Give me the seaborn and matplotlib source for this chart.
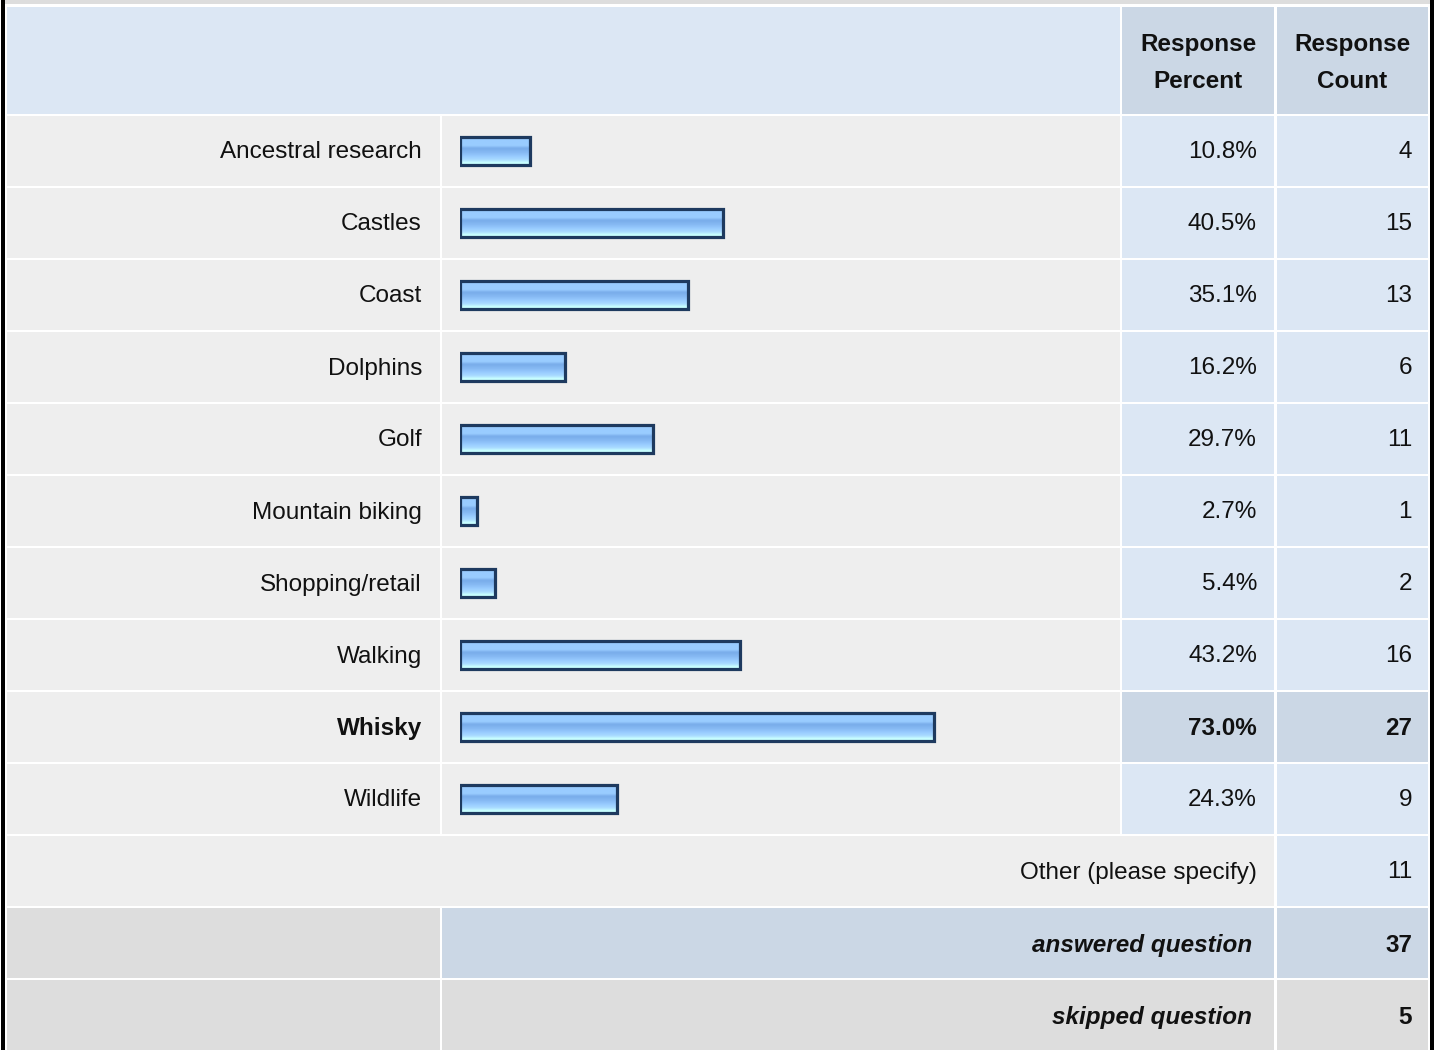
import numpy as np
import pandas as pd
import matplotlib
matplotlib.use("Agg")
import matplotlib.pyplot as plt
from matplotlib.patches import Rectangle
from matplotlib.colors import to_rgb
import seaborn as sns

# ---------------- data ----------------
categories = ["Ancestral research", "Castles", "Coast", "Dolphins", "Golf",
              "Mountain biking", "Shopping/retail", "Walking", "Whisky", "Wildlife"]
percents = [10.8, 40.5, 35.1, 16.2, 29.7, 2.7, 5.4, 43.2, 73.0, 24.3]
counts = [4, 15, 13, 6, 11, 1, 2, 16, 27, 9]
header_labels = ["Response\nPercent", "Response\nCount"]
other_label = "Other (please specify)"
other_count = 11
answered_label = "answered question"
answered_count = 37
skipped_label = "skipped question"
skipped_count = 5
highlight = "Whisky"

# ---------------- style ----------------
sns.set_style("white")
plt.rcParams["font.family"] = ["Liberation Sans", "DejaVu Sans"]
plt.rcParams["text.color"] = "#111111"

W, H = 1438, 1050
LB = "#dce7f4"
DB = "#cbd7e5"
G1 = "#eeeeee"
G2 = "#dddddd"
FS = 17.5

fig = plt.figure(figsize=(W / 100, H / 100), dpi=100)
fig.patch.set_facecolor("white")
ax = fig.add_axes([0, 0, 1, 1])
ax.set_xlim(0, W)
ax.set_ylim(H, 0)
ax.axis("off")


def rect(x0, y0, x1, y1, c):
    ax.add_patch(Rectangle((x0, y0), x1 - x0, y1 - y0, facecolor=c,
                           edgecolor="none", zorder=1))


C0 = (7, 440)
C1 = (442, 1120)
C2 = (1122, 1274)
C3 = (1277, 1428)
LABEL_R = 422
PCT_R = 1257
CNT_R = 1412

# top strip and header
rect(5, 0, 1430, 4, G2)
rect(C0[0], 7, C1[1], 114, LB)
rect(C2[0], 7, C2[1], 114, DB)
rect(C3[0], 7, C3[1], 114, DB)
for lab, (xa, xb) in zip(header_labels, [C2, C3]):
    ax.text((xa + xb) / 2, 63, lab, ha="center", va="center", fontsize=FS,
            fontweight="bold", linespacing=1.75, zorder=3)

# data rows
ROW0, PITCH, RH = 116, 72, 70
for i, (cat, p, n) in enumerate(zip(categories, percents, counts)):
    top = ROW0 + PITCH * i
    bot = top + RH
    hl = cat == highlight
    rect(C0[0], top, C0[1], bot, G1)
    rect(C1[0], top, C1[1], bot, G1)
    rect(C2[0], top, C2[1], bot, DB if hl else LB)
    rect(C3[0], top, C3[1], bot, DB if hl else LB)
    yc = (top + bot) / 2 + 1.5
    fw = "bold" if hl else "normal"
    ax.text(LABEL_R, yc, cat, ha="right", va="center", fontsize=FS, fontweight=fw, zorder=3)
    ax.text(PCT_R, yc, f"{p:.1f}%", ha="right", va="center", fontsize=FS, fontweight=fw, zorder=3)
    ax.text(CNT_R, yc, f"{n}", ha="right", va="center", fontsize=FS, fontweight=fw, zorder=3)

# other row
top = ROW0 + PITCH * 10
rect(C0[0], top, C2[1], top + RH, G1)
rect(C3[0], top, C3[1], top + RH, LB)
ax.text(PCT_R, top + RH / 2 + 1.5, other_label, ha="right", va="center", fontsize=FS, zorder=3)
ax.text(CNT_R, top + RH / 2 + 1.5, f"{other_count}", ha="right", va="center", fontsize=FS, zorder=3)

# answered row
top = ROW0 + PITCH * 11
rect(C0[0], top, C0[1], top + RH, G2)
rect(C1[0], top, C2[1], top + RH, DB)
rect(C3[0], top, C3[1], top + RH, DB)
ax.text(1252, top + RH / 2 + 2.5, answered_label, ha="right", va="center", fontsize=FS,
        fontweight="bold", fontstyle="italic", zorder=3)
ax.text(CNT_R, top + RH / 2 + 2.5, f"{answered_count}", ha="right", va="center", fontsize=FS,
        fontweight="bold", zorder=3)

# skipped row
top = ROW0 + PITCH * 12
rect(C0[0], top, C0[1], H, G2)
rect(C1[0], top, C2[1], H, G2)
rect(C3[0], top, C3[1], H, G2)
ax.text(1252, top + RH / 2 + 2.5, skipped_label, ha="right", va="center", fontsize=FS,
        fontweight="bold", fontstyle="italic", zorder=3)
ax.text(CNT_R, top + RH / 2 + 2.5, f"{skipped_count}", ha="right", va="center", fontsize=FS,
        fontweight="bold", zorder=3)

# black outer borders
rect(1, 0, 5, H, "black")
rect(1430, 0, 1433.5, H, "black")

# ---------------- bars ----------------
PX_PER_PCT = 6.5
bx0, bx1 = 459.5, 1120
by0, by1 = ROW0 - 1, ROW0 + PITCH * 10 - 1
axb = fig.add_axes([bx0 / W, 1 - by1 / H, (bx1 - bx0) / W, (by1 - by0) / H])
df = pd.DataFrame({"category": categories, "percent": percents})
sns.barplot(data=df, x="percent", y="category", orient="h", ax=axb, width=0.38,
            color="#99ccff", saturation=1, edgecolor="#1e3a5f", linewidth=2.3)

stops = [(0.0, "#99ccff"), (0.30, "#99ccff"), (0.40, "#78acea"), (0.55, "#86b9f3"),
         (0.70, "#99ccff"), (0.82, "#aadcff"), (0.92, "#c8ffff"), (1.0, "#c8ffff")]
N = 40
pos = np.linspace(0, 1, N)
sp = [s[0] for s in stops]
grad = np.zeros((N, 1, 3))
for ch in range(3):
    grad[:, 0, ch] = np.interp(pos, sp, [to_rgb(s[1])[ch] for s in stops])

for patch in axb.patches:
    x0 = patch.get_x()
    y0 = patch.get_y()
    w = patch.get_width()
    h = patch.get_height()
    patch.set_facecolor("none")
    patch.set_zorder(3)
    patch.set_joinstyle("miter")
    im = axb.imshow(grad, extent=(x0, x0 + w, y0 + h, y0), origin="upper",
                    aspect="auto", interpolation="bilinear", zorder=2)
    im.set_clip_path(patch)

axb.set_xlim(0, (bx1 - bx0) / PX_PER_PCT)
axb.set_ylim(len(categories) - 0.5, -0.5)
axb.axis("off")

fig.savefig("out.png", dpi=100, facecolor="white")
